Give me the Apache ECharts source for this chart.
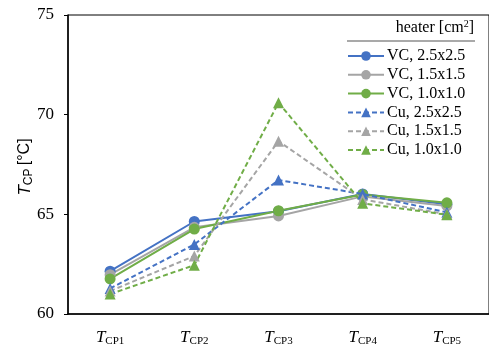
<!DOCTYPE html>
<html><head><meta charset="utf-8">
<script src="https://cdn.jsdelivr.net/npm/echarts@6/dist/echarts.min.js"></script>
<style>html,body{margin:0;padding:0;background:#fff}#c{width:489px;height:347px}</style>
</head><body><div id="c"></div>
<script>
var categories = ['CP1','CP2','CP3','CP4','CP5'];
var seriesNames = ['VC, 2.5x2.5','VC, 1.5x1.5','VC, 1.0x1.0','Cu, 2.5x2.5','Cu, 1.5x1.5','Cu, 1.0x1.0'];
var vc25 = [62.15, 64.64, 65.15, 66.02, 65.5];
var vc15 = [61.97, 64.35, 64.92, 65.9, 65.42];
var vc10 = [61.76, 64.26, 65.18, 66.0, 65.58];
var cu25 = [61.28, 63.49, 66.72, 66.02, 65.1];
var cu15 = [61.15, 62.91, 68.67, 65.75, 65.0];
var cu10 = [61.0, 62.45, 70.6, 65.55, 64.98];
var yTicks = [60, 65, 70, 75];

var colors = ['#4472C4','#A5A5A5','#70AD47','#4472C4','#A5A5A5','#70AD47'];
var dataSets = [vc25, vc15, vc10, cu25, cu15, cu10];
var series = dataSets.map(function(d, i){
  var isCu = i >= 3;
  return {
    name: seriesNames[i], type: 'line', data: d,
    symbol: isCu ? 'triangle' : 'circle',
    symbolSize: 11,
    itemStyle: {color: colors[i]},
    lineStyle: {color: colors[i], width: 2, type: isCu ? [5,3] : 'solid'},
    z: isCu ? 3 : 2
  };
});
var serif = '"Liberation Serif","Times New Roman",serif';
var sans = '"Liberation Sans",Arial,sans-serif';
var chart = echarts.init(document.getElementById('c'));
chart.setOption({
  animation: false,
  grid: {left: 68, top: 15, width: 427, height: 304, show: true, borderColor: '#000', borderWidth: 1},
  legend: {
    orient: 'vertical', left: 342, top: 43, itemWidth: 36, itemHeight: 12, itemGap: 2.8,
    data: seriesNames,
    textStyle: {fontFamily: serif, fontSize: 16, lineHeight: 14, color: '#000', padding: [0,0,0,-2]}
  },
  xAxis: {
    type: 'category', data: categories, boundaryGap: true,
    axisLine: {lineStyle: {color: '#000', width: 1.5}},
    axisTick: {show: false},
    axisLabel: {
      margin: 14,
      formatter: function(v){ return '{t|T}{s|' + v + '}'; },
      rich: {
        t: {fontFamily: serif, fontStyle: 'italic', fontSize: 17, color: '#000'},
        s: {fontFamily: serif, fontSize: 11, color: '#000', verticalAlign: 'bottom', padding: [8,0,0,0]}
      }
    }
  },
  yAxis: {
    type: 'value', min: yTicks[0], max: yTicks[yTicks.length-1], interval: 5,
    axisLine: {show: true, lineStyle: {color: '#000', width: 1.5}},
    axisTick: {show: true, inside: false, length: 4, lineStyle: {color: '#000'}},
    splitLine: {show: false},
    axisLabel: {margin: 14, fontFamily: serif, fontSize: 17, color: '#000'}
  },
  graphic: [
    {type: 'text', x: 25, y: 167, rotation: Math.PI / 2, style: {
      text: '{t|T}{s|CP} {u|[°C]}', align: 'center', verticalAlign: 'middle',
      rich: {
        t: {fontFamily: sans, fontStyle: 'italic', fontSize: 17, fill: '#000'},
        s: {fontFamily: sans, fontSize: 12, fill: '#000', padding: [7,0,0,0]},
        u: {fontFamily: sans, fontSize: 16, fill: '#000'}
      }
    }},
    {type: 'text', right: 15, top: 19, style: {
      text: 'heater [cm{sup|2}]', font: '16px ' + serif, fill: '#000',
      rich: {sup: {fontSize: 10, fontFamily: serif, padding: [0,0,7,0], fill: '#000'}}
    }},
    {type: 'line', shape: {x1: 347, y1: 41, x2: 475, y2: 41}, style: {stroke: '#555', lineWidth: 1.2}}
  ],
  series: series
});
</script></body></html>
